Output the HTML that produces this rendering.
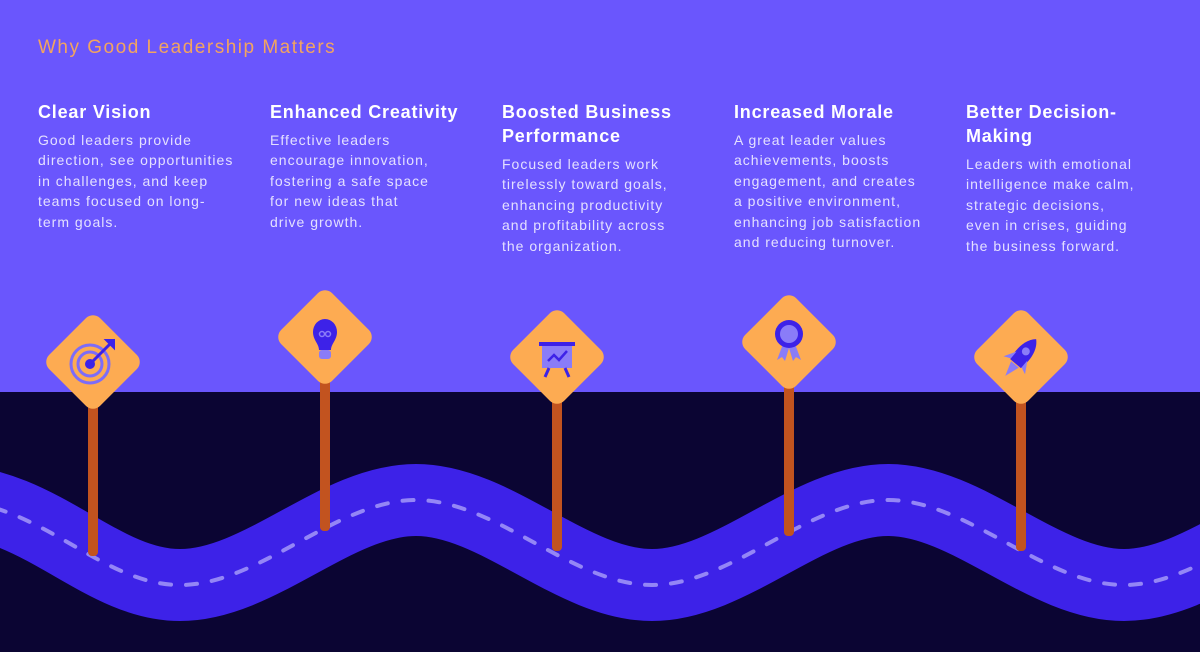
<!DOCTYPE html>
<html><head><meta charset="utf-8"><style>
body{margin:0;width:1200px;height:652px;overflow:hidden;background:#0b0533;font-family:"Liberation Sans",sans-serif;position:relative}
.top{position:absolute;left:0;top:0;width:1200px;height:392px;background:#6a56fd}
.title{position:absolute;left:38px;top:37px;font-size:19px;color:#f2a460;letter-spacing:1.5px;white-space:nowrap}
.col{position:absolute;top:100px;width:230px;white-space:nowrap}
.col h3{margin:0 0 6px;font-size:18px;line-height:24px;color:#fff;font-weight:bold;letter-spacing:0.8px}
.col p{margin:0;font-size:14px;line-height:20.4px;color:#e4e0ff;letter-spacing:1px}
svg{position:absolute;left:0;top:0}
</style></head><body>
<div class="top"></div>
<div class="title">Why Good Leadership Matters</div>
<div class="col" style="left:38px"><h3>Clear Vision</h3><p>Good leaders provide<br>direction, see opportunities<br>in challenges, and keep<br>teams focused on long-<br>term goals.</p></div>
<div class="col" style="left:270px"><h3>Enhanced Creativity</h3><p>Effective leaders<br>encourage innovation,<br>fostering a safe space<br>for new ideas that<br>drive growth.</p></div>
<div class="col" style="left:502px"><h3>Boosted Business<br>Performance</h3><p>Focused leaders work<br>tirelessly toward goals,<br>enhancing productivity<br>and profitability across<br>the organization.</p></div>
<div class="col" style="left:734px"><h3>Increased Morale</h3><p>A great leader values<br>achievements, boosts<br>engagement, and creates<br>a positive environment,<br>enhancing job satisfaction<br>and reducing turnover.</p></div>
<div class="col" style="left:966px"><h3>Better Decision-<br>Making</h3><p>Leaders with emotional<br>intelligence make calm,<br>strategic decisions,<br>even in crises, guiding<br>the business forward.</p></div>
<svg width="1200" height="652" viewBox="0 0 1200 652">
<path d="M-56,500 C40,500 100,585 180,585 C260,585 336,500 416,500 C496,500 572,585 652,585 C732,585 808,500 888,500 C968,500 1044,585 1124,585 C1204,585 1280,500 1360,500" fill="none" stroke="#3d22e8" stroke-width="72"/>
<path d="M-56,500 C40,500 100,585 180,585 C260,585 336,500 416,500 C496,500 572,585 652,585 C732,585 808,500 888,500 C968,500 1044,585 1124,585 C1204,585 1280,500 1360,500" fill="none" stroke="#9486f6" stroke-width="4" stroke-dasharray="11 15" stroke-linecap="round"/>
<g fill="#c2531f">
<rect x="88" y="400" width="10" height="156" rx="4"/>
<rect x="320" y="375" width="10" height="156" rx="4"/>
<rect x="552" y="395" width="10" height="156" rx="4"/>
<rect x="784" y="380" width="10" height="156" rx="4"/>
<rect x="1016" y="395" width="10" height="156" rx="4"/>
</g>
<g fill="#fdab52">
<rect x="-36" y="-36" width="72" height="72" rx="10" transform="translate(93,362) rotate(45)"/>
<rect x="-36" y="-36" width="72" height="72" rx="10" transform="translate(325,337) rotate(45)"/>
<rect x="-36" y="-36" width="72" height="72" rx="10" transform="translate(557,357) rotate(45)"/>
<rect x="-36" y="-36" width="72" height="72" rx="10" transform="translate(789,342) rotate(45)"/>
<rect x="-36" y="-36" width="72" height="72" rx="10" transform="translate(1021,357) rotate(45)"/>
</g>
<g transform="translate(90,364)" fill="none" stroke="#7d6cf9" stroke-width="3">
<circle r="19"/><circle r="12"/><circle r="5" fill="#3d22e8" stroke="none"/>
<line x1="0" y1="0" x2="20" y2="-20" stroke="#3d22e8"/>
<path d="M16,-24 L24,-24 L24,-16 L20,-20Z" fill="#3d22e8" stroke="#3d22e8" stroke-width="2"/>
</g>
<g transform="translate(325,338)">
<path d="M-12,-6 A12,13 0 1 1 12,-6 C12,2 6,6 6,12 L-6,12 C-6,6 -12,2 -12,-6Z" fill="#3d22e8"/>
<rect x="-6" y="12" width="12" height="9" rx="3" fill="#8a7cf8"/>
<circle cx="-3" cy="-4" r="2.5" fill="none" stroke="#8a7cf8" stroke-width="1.5"/>
<circle cx="3" cy="-4" r="2.5" fill="none" stroke="#8a7cf8" stroke-width="1.5"/>
</g>
<g transform="translate(557,357)">
<rect x="-18" y="-15" width="36" height="4" fill="#3d22e8"/>
<rect x="-15" y="-11" width="30" height="22" fill="#8a7cf8"/>
<path d="M-9,4 L-3,-2 L2,3 L10,-6" fill="none" stroke="#3d22e8" stroke-width="2.5"/>
<path d="M-8,11 L-12,20 M8,11 L12,20" stroke="#3d22e8" stroke-width="3"/>
</g>
<g transform="translate(789,340)">
<path d="M-6,4 L-12,20 L-7,17 L-4,21 L0,8Z M6,4 L12,20 L7,17 L4,21 L0,8Z" fill="#8a7cf8"/>
<circle cy="-6" r="14" fill="#3d22e8"/>
<circle cy="-6" r="9" fill="#8a7cf8"/>
</g>
<g transform="translate(1022,356) rotate(40)">
<path d="M0,-22 C9,-14 9,0 7,10 L-7,10 C-9,0 -9,-14 0,-22Z" fill="#3d22e8"/>
<circle cy="-6" r="4" fill="#8a7cf8"/>
<path d="M-7,0 L-14,12 L-7,9Z M7,0 L14,12 L7,9Z" fill="#8a7cf8"/>
<path d="M-5,11 L0,26 L5,11Z" fill="#8a7cf8"/>
</g>
</svg>
</body></html>
